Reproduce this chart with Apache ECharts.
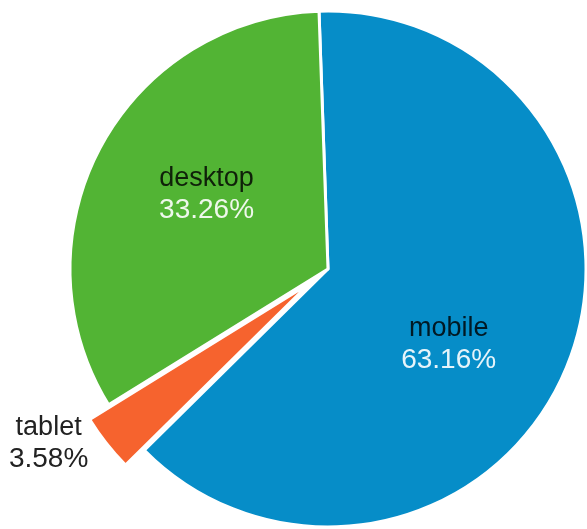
<!DOCTYPE html>
<html>
<head>
<meta charset="utf-8">
<script src="https://cdn.jsdelivr.net/npm/echarts@6/dist/echarts.min.js"></script>
<style>
  html, body { margin: 0; padding: 0; background: #ffffff; }
  #chart { width: 587px; height: 529px; }
</style>
</head>
<body>
<div id="chart"></div>
<script>
// Sessions share by device category (percent)
const categories = ['mobile', 'tablet', 'desktop'];
const shares = [63.16, 3.58, 33.26];
const colors = ['#068DC8', '#F6632E', '#52B434'];

// small nudges so each label sits near the slice's visual centre
const labelNudge = [[-2, 27], [-13, 0], [-5, -12]];

const chart = echarts.init(document.getElementById('chart'), null, { renderer: 'canvas' });

const data = categories.map((name, i) => ({
  name: name,
  value: shares[i],
  selected: name === 'tablet',
  itemStyle: { color: colors[i] },
  label: name === 'tablet'
    ? { position: 'outside', rich: { n: { color: '#222' }, p: { color: '#222' } } }
    : { position: 'inside' }
}));

const font = 'Liberation Sans, Arial, sans-serif';

chart.setOption({
  animation: false,
  series: [{
    type: 'pie',
    center: [328, 269],
    radius: 258,
    startAngle: 92,
    clockwise: true,
    selectedMode: 'multiple',
    selectedOffset: 24,
    avoidLabelOverlap: false,
    itemStyle: { borderColor: '#ffffff', borderWidth: 3 },
    emphasis: { disabled: true },
    labelLine: { show: false, length: 0, length2: 0 },
    labelLayout: function (params) {
      const n = labelNudge[params.dataIndex];
      return { dx: n[0], dy: n[1] };
    },
    label: {
      show: true,
      formatter: '{n|{b}}\n{p|{d}%}',
      fontFamily: font,
      rich: {
        n: { fontSize: 27, lineHeight: 31, color: 'rgba(0,0,0,0.82)', fontFamily: font, align: 'center' },
        p: { fontSize: 28, lineHeight: 32, color: 'rgba(255,255,255,0.9)', fontFamily: font, align: 'center' }
      }
    },
    data: data
  }]
});
</script>
</body>
</html>
